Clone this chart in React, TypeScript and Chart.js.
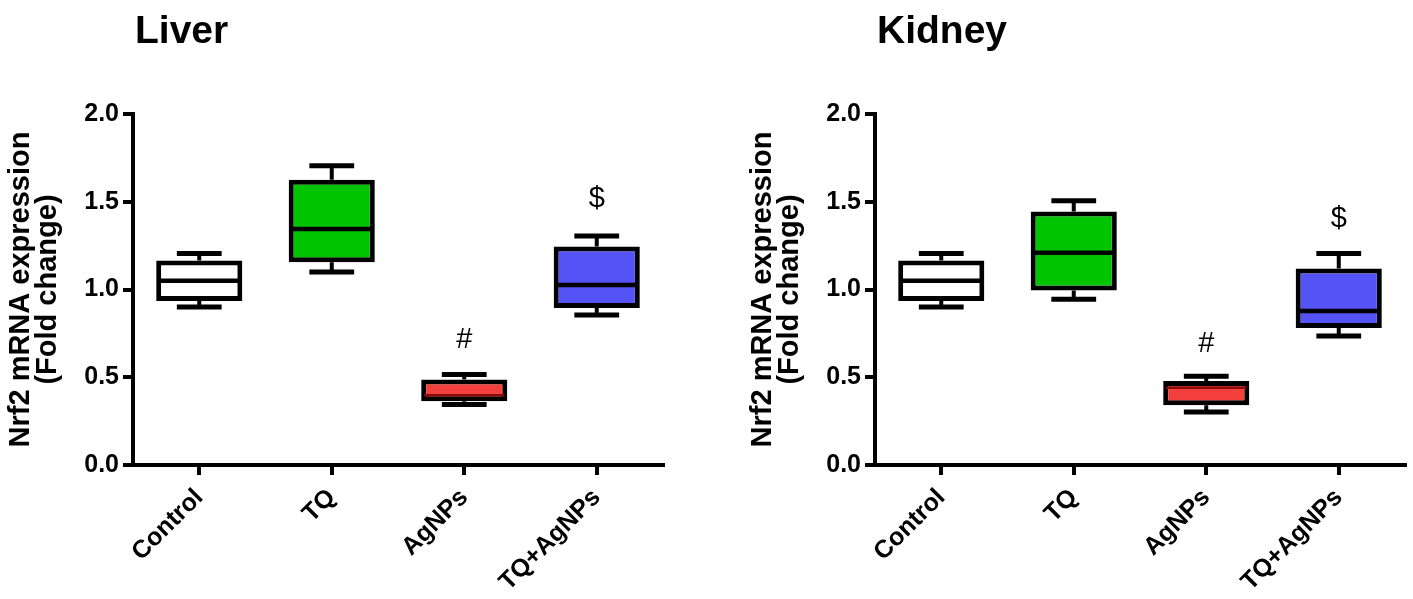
import React, { useEffect, useRef } from "react";
import { Chart, registerables } from "chart.js";

Chart.register(...registerables);

// ---- data ----
const categories = ["Control", "TQ", "AgNPs", "TQ+AgNPs"];
const yTickValues = [0, 0.5, 1.0, 1.5, 2.0];

const liverMin = [0.9, 1.1, 0.345, 0.855];
const liverQ1 = [0.935, 1.155, 0.363, 0.895];
const liverMedian = [1.05, 1.345, 0.397, 1.026];
const liverQ3 = [1.165, 1.625, 0.487, 1.245];
const liverMax = [1.205, 1.705, 0.515, 1.305];
const liverMarks = ["", "", "#", "$"];
const liverMarkValues = [0, 0, 0.712, 1.515];

const kidneyMin = [0.9, 0.945, 0.302, 0.735];
const kidneyQ1 = [0.935, 0.995, 0.34, 0.78];
const kidneyMedian = [1.05, 1.21, 0.44, 0.878];
const kidneyQ3 = [1.165, 1.445, 0.478, 1.12];
const kidneyMax = [1.205, 1.505, 0.505, 1.205];
const kidneyMarks = ["", "", "#", "$"];
const kidneyMarkValues = [0, 0, 0.69, 1.4];

const fillColors = ["#ffffff", "#00c400", "#f3403c", "#5353f6"];
const medianColors = ["#000000", "#000000", "#8a0a0a", "#000000"];
const medianWidths = [4.5, 4.5, 2.5, 4.5];

const FONT = "Arial, 'Liberation Sans', Helvetica, sans-serif";

type PanelProps = {
  title: string;
  min: number[];
  q1: number[];
  median: number[];
  q3: number[];
  max: number[];
  marks: string[];
  markValues: number[];
  width: number;
  left: number;
};

function makeBoxPlugin(p: PanelProps) {
  return {
    id: "boxWhiskers",
    beforeDatasetsDraw(chart: any) {
      const ctx = chart.ctx;
      const y = chart.scales.y;
      const meta = chart.getDatasetMeta(0);
      ctx.save();
      ctx.strokeStyle = "#000";
      ctx.lineCap = "butt";
      p.min.forEach((mn: number, i: number) => {
        const bar = meta.data[i];
        if (!bar) return;
        const cx = bar.x;
        const half = bar.width * 0.26;
        const yMin = y.getPixelForValue(mn);
        const yMax = y.getPixelForValue(p.max[i]);
        const yQ1 = y.getPixelForValue(p.q1[i]);
        const yQ3 = y.getPixelForValue(p.q3[i]);
        ctx.lineWidth = 4;
        ctx.beginPath();
        ctx.moveTo(cx, yMax);
        ctx.lineTo(cx, yQ3);
        ctx.moveTo(cx, yQ1);
        ctx.lineTo(cx, yMin);
        ctx.stroke();
        ctx.lineWidth = 5;
        ctx.beginPath();
        ctx.moveTo(cx - half, yMax);
        ctx.lineTo(cx + half, yMax);
        ctx.moveTo(cx - half, yMin);
        ctx.lineTo(cx + half, yMin);
        ctx.stroke();
      });
      ctx.restore();
    },
    afterDatasetsDraw(chart: any) {
      const ctx = chart.ctx;
      const y = chart.scales.y;
      const meta = chart.getDatasetMeta(0);
      ctx.save();
      p.median.forEach((md: number, i: number) => {
        const bar = meta.data[i];
        if (!bar) return;
        const cx = bar.x;
        const hw = bar.width / 2 - 3;
        const ym = y.getPixelForValue(md);
        ctx.strokeStyle = medianColors[i];
        ctx.lineWidth = medianWidths[i];
        ctx.beginPath();
        ctx.moveTo(cx - hw, ym);
        ctx.lineTo(cx + hw, ym);
        ctx.stroke();
        if (p.marks[i]) {
          ctx.fillStyle = "#000";
          ctx.font = `29px ${FONT}`;
          ctx.textAlign = "center";
          ctx.textBaseline = "middle";
          ctx.fillText(p.marks[i], cx, y.getPixelForValue(p.markValues[i]));
        }
      });
      // panel title
      ctx.fillStyle = "#000";
      ctx.font = `bold 39px ${FONT}`;
      ctx.textAlign = "left";
      ctx.textBaseline = "alphabetic";
      ctx.fillText(p.title, chart.chartArea.left + 2, 43);
      ctx.restore();
    },
  };
}

function Panel(p: PanelProps) {
  const ref = useRef<HTMLCanvasElement>(null);
  useEffect(() => {
    if (!ref.current) return;
    const boxData = p.q1.map((v, i) => [v, p.q3[i]]);
    const chart = new Chart(ref.current, {
      type: "bar",
      data: {
        labels: categories,
        datasets: [
          {
            data: boxData as any,
            backgroundColor: fillColors,
            borderColor: "#000",
            borderWidth: 5,
            borderSkipped: false,
            barPercentage: 0.65,
            categoryPercentage: 1,
          },
        ],
      },
      options: {
        responsive: false,
        animation: false,
        layout: { padding: { top: 114, right: p.width - 663, bottom: 0, left: 0 } },
        plugins: {
          legend: { display: false },
          tooltip: { enabled: false },
          title: { display: false },
        },
        scales: {
          x: {
            type: "category",
            offset: true,
            grid: {
              display: true,
              drawOnChartArea: false,
              drawTicks: true,
              tickLength: 10,
              lineWidth: 4,
              tickWidth: 4,
              color: "#000",
              offset: false,
            } as any,
            border: { display: true, width: 4, color: "#000" },
            ticks: {
              color: "#000",
              font: { family: FONT, size: 25, weight: "bold" },
              minRotation: 45,
              maxRotation: 45,
              padding: 8,
            },
            afterFit: (s: any) => {
              s.height = 134;
            },
          },
          y: {
            min: 0,
            max: 2,
            afterBuildTicks: (s: any) => {
              s.ticks = yTickValues.map((v) => ({ value: v }));
            },
            grid: {
              display: true,
              drawOnChartArea: false,
              drawTicks: true,
              tickLength: 10,
              lineWidth: 4,
              tickWidth: 4,
              color: "#000",
            } as any,
            border: { display: true, width: 4, color: "#000" },
            ticks: {
              color: "#000",
              font: { family: FONT, size: 25, weight: "bold" },
              padding: 4,
              callback: (v: any) => Number(v).toFixed(1),
            },
            title: {
              display: true,
              text: ["Nrf2 mRNA expression", "(Fold change)"],
              color: "#000",
              font: { family: FONT, size: 29, weight: "bold", lineHeight: 0.92 },
              padding: { top: 8, bottom: 0 },
            },
            afterFit: (s: any) => {
              s.width = 133;
            },
          },
        },
      },
      plugins: [makeBoxPlugin(p)],
    });
    return () => chart.destroy();
  }, []);
  return (
    <canvas
      ref={ref}
      width={p.width}
      height={599}
      style={{ position: "absolute", left: p.left, top: 0, width: p.width, height: 599 }}
    />
  );
}

export default function App() {
  return (
    <div style={{ position: "absolute", left: 0, top: 0, width: 1413, height: 599, background: "#fff" }}>
      <Panel
        title="Liver"
        min={liverMin}
        q1={liverQ1}
        median={liverMedian}
        q3={liverQ3}
        max={liverMax}
        marks={liverMarks}
        markValues={liverMarkValues}
        width={742}
        left={0}
      />
      <Panel
        title="Kidney"
        min={kidneyMin}
        q1={kidneyQ1}
        median={kidneyMedian}
        q3={kidneyQ3}
        max={kidneyMax}
        marks={kidneyMarks}
        markValues={kidneyMarkValues}
        width={671}
        left={742}
      />
    </div>
  );
}
